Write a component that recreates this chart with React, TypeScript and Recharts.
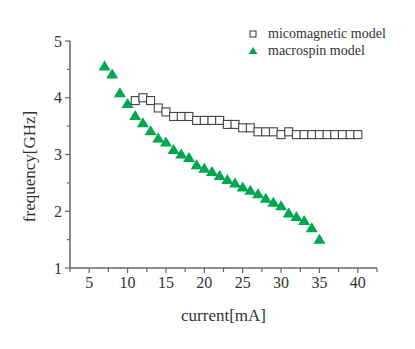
import { Legend, Scatter, ScatterChart, XAxis, YAxis } from "recharts";

const currentMicro = [11, 12, 13, 14, 15, 16, 17, 18, 19, 20, 21, 22, 23, 24, 25, 26, 27, 28, 29, 30, 31, 32, 33, 34, 35, 36, 37, 38, 39, 40];
const freqMicro = [3.95, 4.0, 3.95, 3.82, 3.75, 3.67, 3.67, 3.67, 3.6, 3.6, 3.6, 3.6, 3.53, 3.53, 3.47, 3.47, 3.4, 3.4, 3.4, 3.35, 3.4, 3.35, 3.35, 3.35, 3.35, 3.35, 3.35, 3.35, 3.35, 3.35];

const currentMacro = [7, 8, 9, 10, 11, 12, 13, 14, 15, 16, 17, 18, 19, 20, 21, 22, 23, 24, 25, 26, 27, 28, 29, 30, 31, 32, 33, 34, 35];
const freqMacro = [4.55, 4.41, 4.08, 3.89, 3.68, 3.55, 3.41, 3.28, 3.21, 3.08, 3.0, 2.94, 2.81, 2.75, 2.69, 2.62, 2.55, 2.49, 2.42, 2.36, 2.3, 2.22, 2.15, 2.09, 1.96, 1.9, 1.83, 1.7, 1.5];

const xTicks = [2.5, 5, 7.5, 10, 12.5, 15, 17.5, 20, 22.5, 25, 27.5, 30, 32.5, 35, 37.5, 40, 42.5];
const yTicks = [1, 1.5, 2, 2.5, 3, 3.5, 4, 4.5, 5];

const FONT = '"Liberation Serif", "Times New Roman", serif';
const AXIS = "#666";
const TEXT = "#333";
const GREEN = "#00A651";

const microData = currentMicro.map((x, i) => ({ x, y: freqMicro[i] }));
const macroData = currentMacro.map((x, i) => ({ x, y: freqMacro[i] }));

const SquareDot = (props: { cx?: number; cy?: number }) => {
  const { cx, cy } = props;
  if (cx === undefined || cy === undefined) return null;
  return <rect x={cx - 4} y={cy - 4} width={8} height={8} fill="#fff" stroke="#444" strokeWidth={1.1} />;
};

const TriangleDot = (props: { cx?: number; cy?: number }) => {
  const { cx, cy } = props;
  if (cx === undefined || cy === undefined) return null;
  return <polygon points={`${cx},${cy - 6} ${cx - 6},${cy + 4} ${cx + 6},${cy + 4}`} fill={GREEN} />;
};

const XTick = (props: { x?: number; y?: number; payload?: { value: number } }) => {
  const { x = 0, y = 0, payload } = props;
  const v = payload ? payload.value : 0;
  const major = v % 5 === 0;
  return (
    <g>
      <line x1={x} x2={x} y1={y} y2={y + (major ? 5 : 4)} stroke={AXIS} strokeWidth={1.2} />
      {major && (
        <text x={x} y={y + 20} textAnchor="middle" fontFamily={FONT} fontSize={16} fill={TEXT}>
          {v}
        </text>
      )}
    </g>
  );
};

const YTick = (props: { x?: number; y?: number; payload?: { value: number } }) => {
  const { x = 0, y = 0, payload } = props;
  const v = payload ? payload.value : 0;
  const major = Number.isInteger(v);
  return (
    <g>
      <line x1={x} x2={x - (major ? 5 : 3)} y1={y} y2={y} stroke={AXIS} strokeWidth={1.2} />
      {major && (
        <text x={x - 8} y={y + 5.5} textAnchor="end" fontFamily={FONT} fontSize={16} fill={TEXT}>
          {v}
        </text>
      )}
    </g>
  );
};

const LegendBox = () => (
  <div style={{ fontFamily: FONT, fontSize: 14, color: TEXT, lineHeight: "17px" }}>
    <div style={{ display: "flex", alignItems: "center" }}>
      <svg width={12} height={12}>
        <rect x={3} y={3} width={6} height={6} fill="#fff" stroke="#333" />
      </svg>
      <span style={{ marginLeft: 9 }}>micomagnetic model</span>
    </div>
    <div style={{ display: "flex", alignItems: "center" }}>
      <svg width={12} height={12}>
        <polygon points="6,2 1.5,9 10.5,9" fill={GREEN} />
      </svg>
      <span style={{ marginLeft: 9 }}>macrospin model</span>
    </div>
  </div>
);

export default function App() {
  return (
    <div style={{ position: "absolute", left: 0, top: 0, background: "#fff" }}>
      <ScatterChart width={415} height={349} margin={{ top: 41, right: 38, bottom: 21, left: 0 }}>
        <XAxis
          type="number"
          dataKey="x"
          domain={[2.5, 42.5]}
          ticks={xTicks}
          interval={0}
          tick={<XTick />}
          tickLine={false}
          tickSize={0}
          tickMargin={0}
          axisLine={{ stroke: AXIS, strokeWidth: 1.5 }}
          height={60}
          label={{
            content: (p: any) => (
              <text
                x={p.viewBox.x + p.viewBox.width / 2}
                y={p.viewBox.y + 53}
                textAnchor="middle"
                fontFamily={FONT}
                fontSize={17}
                fill={TEXT}
              >
                current[mA]
              </text>
            ),
          }}
        />
        <YAxis
          type="number"
          dataKey="y"
          domain={[1, 5]}
          ticks={yTicks}
          interval={0}
          tick={<YTick />}
          tickLine={false}
          tickSize={0}
          tickMargin={0}
          axisLine={{ stroke: AXIS, strokeWidth: 1.5 }}
          width={70}
          label={{
            content: (p: any) => {
              const lx = p.viewBox.x + 35;
              const ly = p.viewBox.y + p.viewBox.height / 2 + 12;
              return (
                <text
                  x={lx}
                  y={ly}
                  transform={`rotate(-90, ${lx}, ${ly})`}
                  textAnchor="middle"
                  fontFamily={FONT}
                  fontSize={17}
                  fill={TEXT}
                >
                  frequency[GHz]
                </text>
              );
            },
          }}
        />
        <Legend
          layout="horizontal"
          verticalAlign="middle"
          align="center"
          wrapperStyle={{ top: 25, left: 247, width: 170 }}
          content={() => <LegendBox />}
        />
        <Scatter name="macrospin model" data={macroData} shape={<TriangleDot />} isAnimationActive={false} />
        <Scatter name="micomagnetic model" data={microData} shape={<SquareDot />} isAnimationActive={false} />
      </ScatterChart>
    </div>
  );
}
